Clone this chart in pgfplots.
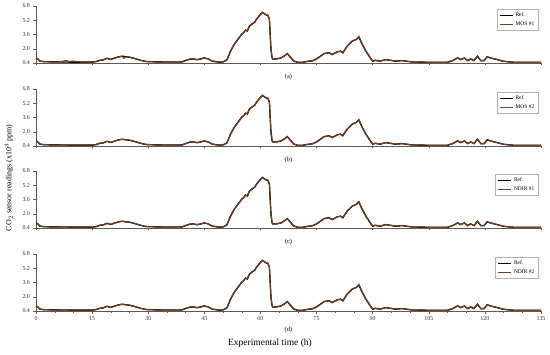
\documentclass[border=0pt]{standalone}
\usepackage{fontspec}
\setmainfont{Liberation Serif}
\usepackage{pgfplots}
\usepackage{pgfplotstable}
\pgfplotsset{compat=1.18}
\definecolor{sensbrown}{RGB}{120,62,32}
\definecolor{axgray}{RGB}{90,90,90}

\pgfplotstableread[row sep=\\]{t v\\
0 1.0\\ 0.5 0.85\\ 1 0.62\\ 2 0.55\\ 4 0.53\\ 6 0.52\\ 8 0.51\\ 10 0.5\\ 12 0.5\\ 14 0.49\\ 15 0.5\\
16 0.55\\ 17 0.7\\ 18 0.75\\ 19 0.93\\ 20 0.8\\ 21 0.95\\ 22 1.08\\ 23 1.16\\ 24 1.1\\ 25 1.05\\
26 0.95\\ 27 0.82\\ 28 0.7\\ 29 0.6\\ 30 0.55\\ 33 0.52\\ 36 0.51\\ 39 0.52\\ 40 0.67\\ 41 0.82\\
42 0.86\\ 43 0.78\\ 44 0.85\\ 45 0.97\\ 46 0.86\\ 47 0.63\\ 48 0.55\\ 49 0.5\\ 50 0.52\\ 51 0.74\\
51.5 1.2\\ 52 1.73\\ 53 2.5\\ 54 3.07\\ 55 3.64\\ 55.5 3.8\\ 56 4.1\\ 56.5 4.0\\ 57 4.5\\ 57.5 4.7\\
58 4.85\\ 58.5 5.0\\ 59 5.35\\ 59.5 5.6\\ 60 5.85\\ 60.5 6.08\\ 61 5.95\\ 61.5 5.8\\ 62 5.75\\ 62.4 5.3\\
62.8 2.0\\ 63.1 1.0\\ 63.3 0.86\\ 64.2 0.85\\ 65.5 0.97\\ 66.4 1.2\\ 67.2 1.45\\ 68.2 0.95\\ 69 0.6\\
70 0.48\\ 71.2 0.47\\ 72.6 0.58\\ 73.9 0.65\\ 75 0.86\\ 76 1.15\\ 77 1.45\\ 78.3 1.55\\ 79.2 1.35\\
80.5 1.65\\ 81.4 1.73\\ 82 1.55\\ 83.2 2.3\\ 84.5 2.85\\ 85.6 3.05\\ 86.3 3.35\\ 87.2 2.5\\ 88.2 1.73\\
89.4 0.95\\ 90 0.6\\ 90.7 0.7\\ 92 0.6\\ 93.4 0.78\\ 95.1 0.68\\ 96 0.6\\ 97.8 0.67\\ 100.5 0.52\\
105 0.48\\ 110 0.48\\ 111.4 0.67\\ 112.7 0.97\\ 113.6 0.78\\ 114.5 0.97\\ 115.4 0.67\\ 116.2 0.86\\
117.1 0.67\\ 118 1.16\\ 118.9 0.67\\ 119.8 0.67\\ 120.6 1.09\\ 121.5 0.97\\ 123.3 0.78\\ 125 0.59\\
127.7 0.48\\ 135 0.48\\
}\refdata

\pgfplotstableread[row sep=\\]{t v\\
0 1.0\\ 0.5 0.85\\ 1 0.62\\ 2 0.55\\ 4 0.53\\ 6 0.52\\ 7 0.6\\ 8 0.68\\ 9 0.58\\ 10 0.62\\ 12 0.5\\ 14 0.49\\ 15 0.5\\
16 0.55\\ 17 0.7\\ 18 0.75\\ 19 0.93\\ 20 0.8\\ 21 0.95\\ 22 1.08\\ 23 1.16\\ 23.5 0.9\\ 24 1.1\\ 25 1.05\\
26 0.95\\ 27 0.82\\ 28 0.7\\ 29 0.6\\ 30 0.55\\ 33 0.52\\ 36 0.51\\ 39 0.52\\ 40 0.67\\ 41 0.82\\
42 0.86\\ 43 0.78\\ 44 0.85\\ 45 0.97\\ 46 0.86\\ 47 0.63\\ 48 0.55\\ 49 0.5\\ 50 0.52\\ 51 0.74\\
51.5 1.2\\ 52 1.73\\ 53 2.5\\ 54 3.07\\ 55 3.64\\ 55.5 3.8\\ 56 4.1\\ 56.5 4.0\\ 57 4.5\\ 57.5 4.7\\
58 4.85\\ 58.5 5.0\\ 59 5.35\\ 59.5 5.6\\ 60 5.85\\ 60.5 6.08\\ 61 5.95\\ 61.5 5.8\\ 62 5.75\\ 62.4 5.3\\
62.8 2.0\\ 63.1 1.0\\ 63.3 0.86\\ 64.2 0.85\\ 65.5 0.97\\ 66.4 1.2\\ 67.2 1.45\\ 68.2 0.95\\ 69 0.6\\
70 0.48\\ 71.2 0.47\\ 72.6 0.58\\ 73.9 0.65\\ 75 0.86\\ 76 1.15\\ 77 1.45\\ 78.3 1.55\\ 79.2 1.35\\
80.5 1.65\\ 81.4 1.73\\ 82 1.55\\ 83.2 2.3\\ 84.5 2.85\\ 85.6 3.05\\ 86.3 3.35\\ 87.2 2.5\\ 88.2 1.73\\
89.4 0.95\\ 90 0.6\\ 90.7 0.7\\ 92 0.6\\ 93.4 0.78\\ 95.1 0.68\\ 96 0.6\\ 97.8 0.67\\ 100.5 0.52\\
105 0.48\\ 110 0.48\\ 111.4 0.67\\ 112.7 0.97\\ 113.6 0.78\\ 114.5 0.97\\ 115.4 0.67\\ 116.2 0.86\\
117.1 0.67\\ 118 1.16\\ 118.9 0.67\\ 119.8 0.67\\ 120.6 1.09\\ 121.5 0.97\\ 123.3 0.78\\ 125 0.59\\
127.7 0.48\\ 135 0.48\\
}\mosone

\pgfplotstableread[row sep=\\]{t v\\
0 0.98\\ 0.5 0.84\\ 1 0.62\\ 2 0.55\\ 4 0.53\\ 6 0.52\\ 8 0.51\\ 10 0.5\\ 12 0.5\\ 14 0.49\\ 15 0.5\\
16 0.56\\ 17 0.7\\ 18 0.76\\ 19 0.92\\ 20 0.8\\ 21 0.95\\ 22 1.07\\ 23 1.15\\ 24 1.1\\ 25 1.05\\
26 0.95\\ 27 0.82\\ 28 0.7\\ 29 0.6\\ 30 0.55\\ 33 0.52\\ 36 0.51\\ 39 0.52\\ 40 0.67\\ 41 0.82\\
42 0.86\\ 43 0.78\\ 44 0.85\\ 45 0.96\\ 46 0.86\\ 47 0.63\\ 48 0.55\\ 49 0.5\\ 50 0.52\\ 51 0.74\\
51.5 1.2\\ 52 1.73\\ 53 2.5\\ 54 3.05\\ 55 3.62\\ 55.5 3.8\\ 56 4.1\\ 56.5 4.0\\ 57 4.5\\ 57.5 4.7\\
58 4.85\\ 58.5 5.0\\ 59 5.35\\ 59.5 5.6\\ 60 5.85\\ 60.5 6.06\\ 61 5.95\\ 61.5 5.8\\ 62 5.75\\ 62.4 5.3\\
62.8 2.0\\ 63.1 1.0\\ 63.3 0.86\\ 64.2 0.85\\ 65.5 0.97\\ 66.4 1.2\\ 67.2 1.45\\ 68.2 0.95\\ 69 0.6\\
70 0.48\\ 71.2 0.47\\ 72.6 0.58\\ 73.9 0.65\\ 75 0.86\\ 76 1.15\\ 77 1.45\\ 78.3 1.55\\ 79.2 1.35\\
80.5 1.65\\ 81.4 1.73\\ 82 1.55\\ 83.2 2.3\\ 84.5 2.85\\ 85.6 3.05\\ 86.3 3.35\\ 87.2 2.5\\ 88.2 1.73\\
89.4 0.95\\ 90 0.6\\ 90.7 0.7\\ 92 0.6\\ 93.4 0.78\\ 95.1 0.68\\ 96 0.6\\ 97.8 0.67\\ 100.5 0.52\\
105 0.48\\ 110 0.48\\ 111.4 0.67\\ 112.7 0.97\\ 113.6 0.78\\ 114.5 0.97\\ 115.4 0.67\\ 116.2 0.86\\
117.1 0.67\\ 118 1.16\\ 118.9 0.67\\ 119.8 0.67\\ 120.6 1.09\\ 121.5 0.97\\ 123.3 0.78\\ 125 0.59\\
127.7 0.48\\ 135 0.48\\
}\mostwo

\pgfplotstableread[row sep=\\]{t v\\
0 1.0\\ 0.5 0.85\\ 1 0.62\\ 2 0.55\\ 4 0.53\\ 6 0.52\\ 8 0.51\\ 10 0.5\\ 12 0.5\\ 14 0.49\\ 15 0.5\\
16 0.55\\ 17 0.7\\ 18 0.75\\ 19 0.93\\ 20 0.8\\ 21 0.95\\ 22 1.08\\ 23 1.16\\ 24 1.1\\ 25 1.05\\
26 0.95\\ 27 0.82\\ 28 0.7\\ 29 0.6\\ 30 0.55\\ 33 0.52\\ 36 0.51\\ 39 0.52\\ 40 0.67\\ 41 0.82\\
42 0.86\\ 43 0.78\\ 44 0.85\\ 45 0.97\\ 46 0.86\\ 47 0.63\\ 48 0.55\\ 49 0.5\\ 50 0.52\\ 51 0.74\\
51.5 1.2\\ 52 1.73\\ 53 2.5\\ 54 3.07\\ 55 3.64\\ 55.5 3.8\\ 56 4.1\\ 56.5 4.0\\ 57 4.5\\ 57.5 4.7\\
58 4.85\\ 58.5 5.0\\ 59 5.35\\ 59.5 5.6\\ 60 5.85\\ 60.5 6.08\\ 61 5.95\\ 61.5 5.8\\ 62 5.75\\ 62.4 5.3\\
62.8 2.0\\ 63.1 1.0\\ 63.3 0.86\\ 64.2 0.85\\ 65.5 0.97\\ 66.4 1.2\\ 67.2 1.45\\ 68.2 0.95\\ 69 0.6\\
70 0.48\\ 71.2 0.47\\ 72.6 0.58\\ 73.9 0.65\\ 75 0.86\\ 76 1.15\\ 77 1.45\\ 78.3 1.55\\ 79.2 1.35\\
80.5 1.65\\ 81.4 1.73\\ 82 1.55\\ 83.2 2.3\\ 84.5 2.85\\ 85.6 3.05\\ 86.3 3.35\\ 87.2 2.5\\ 88.2 1.73\\
89.4 0.95\\ 90 0.6\\ 90.7 0.7\\ 92 0.6\\ 93.4 0.78\\ 95.1 0.68\\ 96 0.6\\ 97.8 0.67\\ 100.5 0.52\\
105 0.48\\ 110 0.48\\ 111.4 0.67\\ 112.7 0.97\\ 113.6 0.78\\ 114.5 0.97\\ 115.4 0.67\\ 116.2 0.86\\
117.1 0.67\\ 118 1.16\\ 118.9 0.67\\ 119.8 0.67\\ 120.6 1.09\\ 121.5 0.97\\ 123.3 0.78\\ 125 0.59\\
127.7 0.48\\ 135 0.48\\
}\ndirone

\pgfplotstableread[row sep=\\]{t v\\
0 1.0\\ 0.5 0.85\\ 1 0.62\\ 2 0.55\\ 4 0.53\\ 6 0.52\\ 8 0.51\\ 10 0.5\\ 12 0.5\\ 14 0.49\\ 15 0.5\\
16 0.55\\ 17 0.7\\ 18 0.75\\ 19 0.93\\ 20 0.8\\ 21 0.95\\ 22 1.08\\ 23 1.16\\ 24 1.1\\ 25 1.05\\
26 0.95\\ 27 0.82\\ 28 0.7\\ 29 0.6\\ 30 0.55\\ 33 0.52\\ 36 0.51\\ 39 0.52\\ 40 0.67\\ 41 0.82\\
42 0.86\\ 43 0.78\\ 44 0.85\\ 45 0.97\\ 46 0.86\\ 47 0.63\\ 48 0.55\\ 49 0.5\\ 50 0.52\\ 51 0.74\\
51.5 1.2\\ 52 1.73\\ 53 2.5\\ 54 3.07\\ 55 3.64\\ 55.5 3.8\\ 56 4.1\\ 56.5 4.0\\ 57 4.5\\ 57.5 4.7\\
58 4.85\\ 58.5 5.0\\ 59 5.35\\ 59.5 5.6\\ 60 5.85\\ 60.5 6.08\\ 61 5.95\\ 61.5 5.8\\ 62 5.75\\ 62.4 5.3\\
62.8 2.0\\ 63.1 1.0\\ 63.3 0.86\\ 64.2 0.85\\ 65.5 0.97\\ 66.4 1.2\\ 67.2 1.45\\ 68.2 0.95\\ 69 0.6\\
70 0.48\\ 71.2 0.47\\ 72.6 0.58\\ 73.9 0.65\\ 75 0.86\\ 76 1.15\\ 77 1.45\\ 78.3 1.55\\ 79.2 1.35\\
80.5 1.65\\ 81.4 1.73\\ 82 1.55\\ 83.2 2.3\\ 84.5 2.85\\ 85.6 3.05\\ 86.3 3.35\\ 87.2 2.5\\ 88.2 1.73\\
89.4 0.95\\ 90 0.6\\ 90.7 0.7\\ 92 0.6\\ 93.4 0.78\\ 95.1 0.68\\ 96 0.6\\ 97.8 0.67\\ 100.5 0.52\\
105 0.48\\ 110 0.48\\ 111.4 0.67\\ 112.7 0.97\\ 113.6 0.78\\ 114.5 0.97\\ 115.4 0.67\\ 116.2 0.86\\
117.1 0.67\\ 118 1.16\\ 118.9 0.67\\ 119.8 0.67\\ 120.6 1.09\\ 121.5 0.97\\ 123.3 0.78\\ 125 0.59\\
127.7 0.48\\ 135 0.48\\
}\ndirtwo

\pgfplotsset{
  panel/.style={
    scale only axis, width=505bp, height=57bp,
    xmin=0, xmax=135, ymin=0.4, ymax=6.8,
    axis x line*=bottom, axis y line*=left,
    axis line style={axgray, line width=0.5pt},
    tick style={axgray, line width=0.4pt},
    tick align=outside, major tick length=2.5bp, minor tick length=1.5bp,
    xtick={0,15,...,135}, minor x tick num=2,
    ytick={0.4,2.0,3.6,5.2,6.8},
    yticklabel style={/pgf/number format/.cd, fixed, fixed zerofill, precision=1, assume math mode=true},
    tick label style={font=\fontsize{6}{7}\selectfont, text=black!80},
    xlabel style={font=\fontsize{6.5}{7.5}\selectfont},
    legend style={at={(rel axis cs:0.995,0.95)}, anchor=north east,
      font=\fontsize{5.5}{6.5}\selectfont, draw=black!30, line width=0.4pt,
      inner xsep=2bp, inner ysep=1.5bp, row sep=0bp},
    legend cell align=left,
    legend image code/.code={\draw[#1] (0bp,0bp) -- (13bp,0bp);},
  }
}

\newcommand{\panel}[5]{%
  \begin{axis}[panel, at={(36bp,#1)}, anchor=south west, #5]
    \addplot[black, line width=1.4pt] table[x=t, y=v] {\refdata};
    \addlegendentry{Ref.}
    \addplot[sensbrown, line width=1.0pt] table[x=t, y=v] {#2};
    \addlegendentry{#3}
  \end{axis}%
}

\begin{document}
\begin{tikzpicture}
\useasboundingbox (0,0) rectangle (550bp,355bp);
\panel{292bp}{\mosone}{MOS \#1}{(a)}{xticklabels={}, xlabel={(a)}, xlabel style={at={(axis description cs:0.5,-0.27)}, anchor=base}}
\panel{209bp}{\mostwo}{MOS \#2}{(b)}{xticklabels={}, xlabel={(b)}, xlabel style={at={(axis description cs:0.5,-0.27)}, anchor=base}}
\panel{127bp}{\ndirone}{NDIR \#1}{(c)}{xticklabels={}, xlabel={(c)}, xlabel style={at={(axis description cs:0.5,-0.27)}, anchor=base}}
\panel{44bp}{\ndirtwo}{NDIR \#2}{(d)}{xticklabel style={/pgf/number format/assume math mode=true}, xlabel={(d)}, xlabel style={at={(axis description cs:0.5,-0.36)}, anchor=base}}
\node[font=\fontsize{9.5}{11}\selectfont, anchor=base] at (270bp,10bp) {Experimental time (h)};
\node[font=\fontsize{8}{9}\selectfont, rotate=90] at (9bp,177bp) {CO$_2$ sensor readings (x10$^3$ ppm)};
\end{tikzpicture}
\end{document}
